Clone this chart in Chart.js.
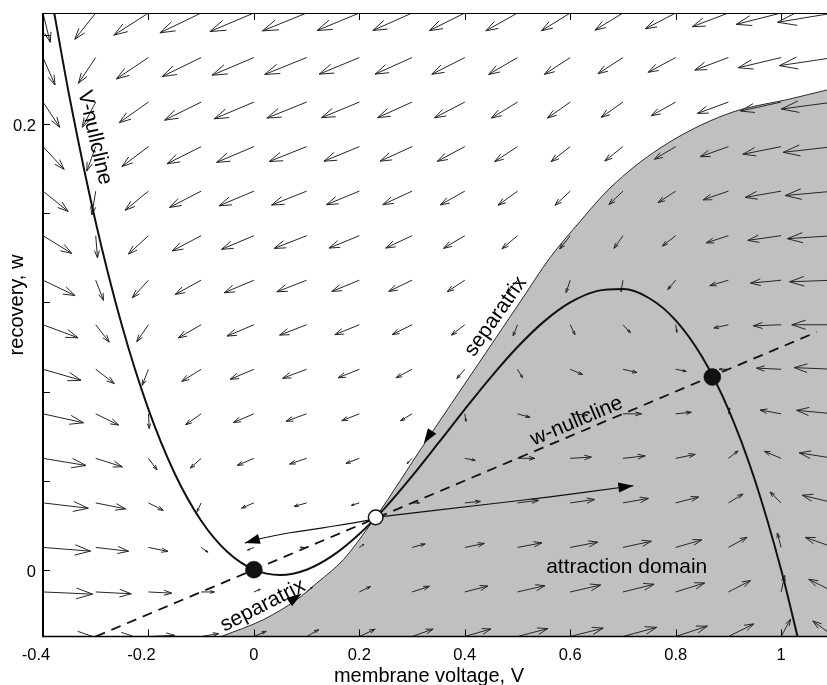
<!DOCTYPE html>
<html>
<head>
<meta charset="utf-8">
<script src="https://cdn.jsdelivr.net/npm/chart.js@4.4.0/dist/chart.umd.min.js"></script>
<style>
  html, body { margin: 0; padding: 0; background: #fff; }
  #wrap { width: 827px; height: 685px; }
</style>
</head>
<body>
<div id="wrap"><canvas id="phase" width="827" height="685"></canvas></div>
<script>
// axes
const xRange = [-0.4, 1.087];
const yRange = [-0.03, 0.25];
const xTicks = [-0.4, -0.2, 0, 0.2, 0.4, 0.6, 0.8, 1];
const xTickLabels = ['-0.4', '-0.2', '0', '0.2', '0.4', '0.6', '0.8', '1'];
const yTicks = [0, 0.04, 0.08, 0.12, 0.16, 0.2, 0.24];
const yTickLabels = ['0', '', '', '', '', '0.2', ''];

// V-nullcline
const vNullV = [-0.38, -0.35, -0.3, -0.25, -0.2, -0.15, -0.1, -0.05, 0, 0.05, 0.1, 0.15, 0.2, 0.25, 0.3, 0.35, 0.4, 0.45, 0.5, 0.55, 0.6, 0.65, 0.7, 0.75, 0.8, 0.85, 0.9, 0.95, 1.0, 1.035];
const vNullW = [0.2517, 0.2126, 0.156, 0.1094, 0.072, 0.0431, 0.022, 0.0079, 0, -0.0024, 0, 0.0064, 0.016, 0.0281, 0.042, 0.0569, 0.072, 0.0866, 0.1, 0.1114, 0.12, 0.1251, 0.126, 0.1219, 0.112, 0.0956, 0.072, 0.0404, 0, -0.0339];

// w-nullcline (dashed straight line)
const wNullV = [-0.3, 1.067];
const wNullW = [-0.03, 0.1067];

// separatrix = edge of the grey attraction domain
const sepV = [-0.0607, 0.0183, 0.0815, 0.1194, 0.1698, 0.2204, 0.231, 0.3229, 0.4265, 0.5043, 0.5616, 0.618, 0.6754, 0.7702, 0.8972, 1.0223, 1.0929];
const sepW = [-0.0299, -0.0224, -0.0134, -0.006, 0.0045, 0.0201, 0.0235, 0.0564, 0.0927, 0.12, 0.1401, 0.1562, 0.1714, 0.1893, 0.2046, 0.2117, 0.2158];

// trajectories leaving the saddle
const leftTrajV = [-0.0171, 0.0114, 0.0682, 0.1308, 0.2199, 0.231];
const leftTrajW = [0.012, 0.0139, 0.0166, 0.0188, 0.0224, 0.0235];
const rightTrajV = [0.231, 0.4474, 0.5616, 0.7198];
const rightTrajW = [0.0235, 0.0295, 0.0327, 0.0377];

// equilibria
const stableV = [0, 0.8695];
const stableW = [0, 0.0865];
const saddleV = [0.231];
const saddleW = [0.0235];

// arrowheads on curves: [tipV, tipW, backV, backW]
const curveArrows = [
  [0.3223, 0.0567, 0.3374, 0.0621],
  [0.0904, -0.0107, 0.0686, -0.0143],
  [-0.0171, 0.012, 0.0114, 0.0139],
  [0.7198, 0.0377, 0.6944, 0.037]
];

// vector field grid
const gridV = [-0.4, -0.3, -0.2, -0.1, 0, 0.1, 0.2, 0.3, 0.4, 0.5, 0.6, 0.7, 0.8, 0.9, 1.0, 1.1];
const gridW = [0.25, 0.23, 0.21, 0.19, 0.17, 0.15, 0.13, 0.11, 0.09, 0.07, 0.05, 0.03, 0.01, -0.01, -0.03];
// dV/dt per grid point, x 0.001
const rateV = [
  [30, -94, -178, -228, -250, -250, -234, -208, -178, -150, -130, -124, -138, -178, -250, -360],
  [50, -74, -158, -208, -230, -230, -214, -188, -158, -130, -110, -104, -118, -158, -230, -340],
  [70, -54, -138, -188, -210, -210, -194, -168, -138, -110, -90, -84, -98, -138, -210, -320],
  [90, -34, -118, -168, -190, -190, -174, -148, -118, -90, -70, -64, -78, -118, -190, -300],
  [110, -14, -98, -148, -170, -170, -154, -128, -98, -70, -50, -44, -58, -98, -170, -280],
  [130, 6, -78, -128, -150, -150, -134, -108, -78, -50, -30, -24, -38, -78, -150, -260],
  [150, 26, -58, -108, -130, -130, -114, -88, -58, -30, -10, -4, -18, -58, -130, -240],
  [170, 46, -38, -88, -110, -110, -94, -68, -38, -10, 10, 16, 2, -38, -110, -220],
  [190, 66, -18, -68, -90, -90, -74, -48, -18, 10, 30, 36, 22, -18, -90, -200],
  [210, 86, 2, -48, -70, -70, -54, -28, 2, 30, 50, 56, 42, 2, -70, -180],
  [230, 106, 22, -28, -50, -50, -34, -8, 22, 50, 70, 76, 62, 22, -50, -160],
  [250, 126, 42, -8, -30, -30, -14, 12, 42, 70, 90, 96, 82, 42, -30, -140],
  [270, 146, 62, 12, -10, -10, 6, 32, 62, 90, 110, 116, 102, 62, -10, -120],
  [290, 166, 82, 32, 10, 10, 26, 52, 82, 110, 130, 136, 122, 82, 10, -100],
  [310, 186, 102, 52, 30, 30, 46, 72, 102, 130, 150, 156, 142, 102, 30, -80]
];
// dw/dt per grid point, x 0.001
const rateW = [
  [-29, -28, -27, -26, -25, -24, -23, -22, -21, -20, -19, -18, -17, -16, -15, -14],
  [-27, -26, -25, -24, -23, -22, -21, -20, -19, -18, -17, -16, -15, -14, -13, -12],
  [-25, -24, -23, -22, -21, -20, -19, -18, -17, -16, -15, -14, -13, -12, -11, -10],
  [-23, -22, -21, -20, -19, -18, -17, -16, -15, -14, -13, -12, -11, -10, -9, -8],
  [-21, -20, -19, -18, -17, -16, -15, -14, -13, -12, -11, -10, -9, -8, -7, -6],
  [-19, -18, -17, -16, -15, -14, -13, -12, -11, -10, -9, -8, -7, -6, -5, -4],
  [-17, -16, -15, -14, -13, -12, -11, -10, -9, -8, -7, -6, -5, -4, -3, -2],
  [-15, -14, -13, -12, -11, -10, -9, -8, -7, -6, -5, -4, -3, -2, -1, 0],
  [-13, -12, -11, -10, -9, -8, -7, -6, -5, -4, -3, -2, -1, 0, 1, 2],
  [-11, -10, -9, -8, -7, -6, -5, -4, -3, -2, -1, 0, 1, 2, 3, 4],
  [-9, -8, -7, -6, -5, -4, -3, -2, -1, 0, 1, 2, 3, 4, 5, 6],
  [-7, -6, -5, -4, -3, -2, -1, 0, 1, 2, 3, 4, 5, 6, 7, 8],
  [-5, -4, -3, -2, -1, 0, 1, 2, 3, 4, 5, 6, 7, 8, 9, 10],
  [-3, -2, -1, 0, 1, 2, 3, 4, 5, 6, 7, 8, 9, 10, 11, 12],
  [-1, 0, 1, 2, 3, 4, 5, 6, 7, 8, 9, 10, 11, 12, 13, 14]
];

// text annotations
const labelTexts = ['V-nullcline', 'separatrix', 'separatrix', 'w-nullcline', 'attraction domain'];
const labelV = [-0.302, 0.4588, 0.0171, 0.6123, 0.7071];
const labelW = [0.194, 0.1137, -0.0161, 0.0667, 0.0013];
const labelAngle = [77, -55, -27, -23, 0];

const FONT = "'Liberation Sans', Arial, Helvetica, sans-serif";
const ARROW_K = 2.43, ARROW_P = 0.6;

const pts = (xs, ys) => xs.map((v, i) => ({x: v, y: ys[i]}));

function headPath(ctx, x1, y1, dx, dy) {
  const a = 0.33, b = 0.33;
  ctx.moveTo(x1 - a * (dx + b * dy), y1 - a * (dy - b * dx));
  ctx.lineTo(x1, y1);
  ctx.lineTo(x1 - a * (dx - b * dy), y1 - a * (dy + b * dx));
}

const phasePlugin = {
  id: 'phase',
  beforeDatasetsDraw(chart) {
    const {ctx, chartArea: a} = chart;
    const x = chart.scales.x, y = chart.scales.y;
    ctx.save();
    ctx.beginPath();
    ctx.rect(a.left, a.top, a.right - a.left, a.bottom - a.top);
    ctx.clip();
    ctx.strokeStyle = '#262626';
    ctx.lineWidth = 1;
    ctx.beginPath();
    gridW.forEach((w, r) => {
      gridV.forEach((v, c) => {
        const x0 = x.getPixelForValue(v), y0 = y.getPixelForValue(w);
        const ux = x.getPixelForValue(v + rateV[r][c] / 1000) - x0;
        const uy = y.getPixelForValue(w + rateW[r][c] / 1000) - y0;
        const m = Math.hypot(ux, uy);
        if (m < 1e-6) return;
        const len = ARROW_K * Math.pow(m, ARROW_P);
        const dx = ux / m * len, dy = uy / m * len;
        ctx.moveTo(x0, y0);
        ctx.lineTo(x0 + dx, y0 + dy);
        headPath(ctx, x0 + dx, y0 + dy, dx, dy);
      });
    });
    ctx.stroke();
    ctx.restore();
  },
  afterDatasetsDraw(chart) {
    const {ctx} = chart;
    const x = chart.scales.x, y = chart.scales.y;
    ctx.save();
    ctx.fillStyle = '#000';
    curveArrows.forEach(([tv, tw, bv, bw]) => {
      const tx = x.getPixelForValue(tv), ty = y.getPixelForValue(tw);
      const bx = x.getPixelForValue(bv), by = y.getPixelForValue(bw);
      const m = Math.hypot(tx - bx, ty - by);
      const ux = (tx - bx) / m, uy = (ty - by) / m;
      const L = 15, H = 5;
      ctx.beginPath();
      ctx.moveTo(tx, ty);
      ctx.lineTo(tx - ux * L - uy * H, ty - uy * L + ux * H);
      ctx.lineTo(tx - ux * L + uy * H, ty - uy * L - ux * H);
      ctx.closePath();
      ctx.fill();
    });
    ctx.restore();
  },
  afterDraw(chart) {
    const {ctx, chartArea: a} = chart;
    const x = chart.scales.x, y = chart.scales.y;
    ctx.save();
    ctx.strokeStyle = '#000';
    // spines
    ctx.lineWidth = 1;
    ctx.beginPath();
    ctx.moveTo(a.left, a.top + 0.5); ctx.lineTo(a.right, a.top + 0.5);
    ctx.stroke();
    ctx.lineWidth = 1.5;
    ctx.beginPath();
    ctx.moveTo(a.left, a.bottom); ctx.lineTo(a.right, a.bottom);
    ctx.stroke();
    ctx.lineWidth = 2;
    ctx.beginPath();
    ctx.moveTo(a.left, a.top); ctx.lineTo(a.left, a.bottom + 0.75);
    ctx.stroke();
    // inward ticks
    ctx.lineWidth = 1;
    ctx.beginPath();
    xTicks.forEach(v => {
      const px = Math.round(x.getPixelForValue(v)) + 0.5;
      ctx.moveTo(px, a.bottom); ctx.lineTo(px, a.bottom - 7);
      ctx.moveTo(px, a.top); ctx.lineTo(px, a.top + 7);
    });
    yTicks.forEach(v => {
      const py = Math.round(y.getPixelForValue(v)) + 0.5;
      ctx.moveTo(a.left, py); ctx.lineTo(a.left + 7, py);
    });
    ctx.stroke();
    // tick labels
    ctx.fillStyle = '#000';
    ctx.font = '16.5px ' + FONT;
    ctx.textAlign = 'center';
    ctx.textBaseline = 'alphabetic';
    xTicks.forEach((v, i) => {
      const px = x.getPixelForValue(v) - (v < 0 ? 7 : 0);
      ctx.fillText(xTickLabels[i], px, a.bottom + 23.5);
    });
    ctx.textAlign = 'right';
    yTicks.forEach((v, i) => {
      if (!yTickLabels[i]) return;
      ctx.fillText(yTickLabels[i], a.left - 7, y.getPixelForValue(v) + 7);
    });
    // axis titles
    ctx.font = '20px ' + FONT;
    ctx.textAlign = 'center';
    ctx.fillText('membrane voltage, V', 429, 682);
    ctx.save();
    ctx.translate(23, 305);
    ctx.rotate(-Math.PI / 2);
    ctx.fillText('recovery, w', 0, 0);
    ctx.restore();
    // annotations
    ctx.font = '21px ' + FONT;
    ctx.textBaseline = 'middle';
    labelTexts.forEach((t, i) => {
      ctx.save();
      ctx.translate(x.getPixelForValue(labelV[i]), y.getPixelForValue(labelW[i]));
      ctx.rotate(labelAngle[i] * Math.PI / 180);
      ctx.fillText(t, 0, 0);
      ctx.restore();
    });
    ctx.restore();
  }
};

const chart = new Chart(document.getElementById('phase').getContext('2d'), {
  type: 'line',
  data: {
    datasets: [
      {
        label: 'separatrix',
        data: pts(sepV, sepW),
        borderColor: '#2a2a2a',
        borderWidth: 1,
        backgroundColor: '#c0c0c0',
        fill: 'start',
        cubicInterpolationMode: 'monotone',
        pointRadius: 0,
        order: 10
      },
      {
        label: 'w-nullcline',
        data: pts(wNullV, wNullW),
        borderColor: '#111',
        borderWidth: 1.8,
        borderDash: [10, 7],
        pointRadius: 0,
        fill: false,
        order: 8
      },
      {
        label: 'V-nullcline',
        data: pts(vNullV, vNullW),
        borderColor: '#111',
        borderWidth: 2,
        cubicInterpolationMode: 'monotone',
        pointRadius: 0,
        fill: false,
        order: 7
      },
      {
        label: 'left trajectory',
        data: pts(leftTrajV, leftTrajW),
        borderColor: '#111',
        borderWidth: 1.2,
        tension: 0.4,
        pointRadius: 0,
        fill: false,
        order: 6
      },
      {
        label: 'right trajectory',
        data: pts(rightTrajV, rightTrajW),
        borderColor: '#111',
        borderWidth: 1.2,
        tension: 0.3,
        pointRadius: 0,
        fill: false,
        order: 6
      },
      {
        label: 'stable',
        data: pts(stableV, stableW),
        showLine: false,
        pointRadius: 8.5,
        pointBackgroundColor: '#111',
        pointBorderColor: '#111',
        pointBorderWidth: 0.5,
        order: 2
      },
      {
        label: 'saddle',
        data: pts(saddleV, saddleW),
        showLine: false,
        pointRadius: 7.3,
        pointBackgroundColor: '#fff',
        pointBorderColor: '#111',
        pointBorderWidth: 1.5,
        order: 1
      }
    ]
  },
  options: {
    responsive: false,
    animation: false,
    layout: { autoPadding: false, padding: { left: 43, top: 13, right: 0, bottom: 48.5 } },
    scales: {
      x: { type: 'linear', min: xRange[0], max: xRange[1], display: false },
      y: { type: 'linear', min: yRange[0], max: yRange[1], display: false }
    },
    plugins: {
      legend: { display: false },
      tooltip: { enabled: false },
      filler: { drawTime: 'beforeDatasetsDraw' }
    }
  },
  plugins: [phasePlugin]
});
</script>
</body>
</html>
